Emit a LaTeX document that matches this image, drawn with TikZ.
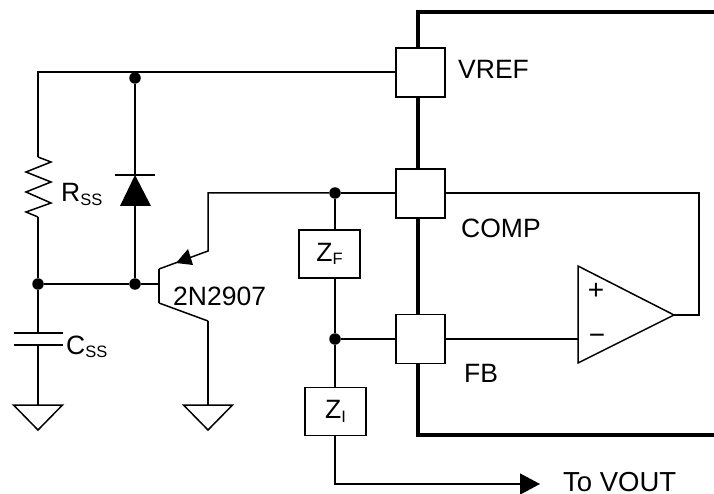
\documentclass[tikz,border=0pt]{standalone}
\usepackage{fontspec}
\setmainfont{Liberation Sans}
\usetikzlibrary{arrows.meta}
\newcommand{\lowtext}[1]{\raisebox{-3.5pt}{\fontsize{16.5}{16.5}\selectfont #1}}
\tikzset{
    wire/.style={line width=1.5pt},
    body/.style={line width=3.6pt, line join=miter},
    pad/.style={draw, line width=1.5pt, fill=white, inner sep=0pt, minimum width=49pt, minimum height=49pt},
    imped/.style={draw, line width=1.5pt, fill=white, inner sep=0pt, minimum width=61pt, minimum height=48pt},
    dot/.style={circle, fill=black, inner sep=0pt, minimum size=11.5pt},
    label/.style={inner sep=0pt, anchor=base west, font=\fontsize{26.5}{26.5}\selectfont},
}
\begin{document}
\begin{tikzpicture}[x=1pt,y=-1pt]
\useasboundingbox (0,0) rectangle (714,494);

% IC outline
\draw[body] (714,12) -- (418,12) -- (418,435) -- (714,435);

% Pins
\node[pad] (vref) at (420.5,72.5) {};
\node[pad] (comp) at (420.5,193.5) {};
\node[pad] (fb) at (420.5,339) {};
\node[label] (vreflabel) at (458,79) {VREF};
\node[label] (complabel) at (461,237) {COMP};
\node[label] (fblabel) at (464,382) {FB};

% Junctions
\node[dot] (dottop) at (135,78) {};
\node[dot] (dotbase) at (135,284) {};
\node[dot] (dotleft) at (38,284) {};
\node[dot] (dotcomp) at (335,193) {};
\node[dot] (dotfb) at (335,339) {};

% Impedances
\node[imped] (zf) at (329.5,254) {\fontsize{26.5}{26.5}\selectfont Z\lowtext{F}};
\node[imped] (zi) at (335.5,411.5) {\fontsize{26.5}{26.5}\selectfont Z\lowtext{I}};

% Error amplifier
\coordinate (ampa) at (578,266);
\coordinate (ampb) at (578,363);
\coordinate (ampout) at (674,315);
\draw[wire, line join=miter] (ampa) -- (ampout) -- (ampb) -- cycle;
\node[inner sep=0pt, font=\fontsize{28}{28}\selectfont] (plus) at (596,291) {+};
\node[inner sep=0pt, font=\fontsize{28}{28}\selectfont] (minus) at (597,339) {\textminus};
\coordinate (ampminus) at (578,339);
\draw[wire] (ampout) -- (699,315) -- (699,193) -- (comp.east |- 699,193);
\draw[wire] (fb.east |- ampminus) -- (ampminus);

% Reference line and soft-start resistor
\coordinate (rtop) at (38,157);
\coordinate (rbot) at (38,217);
\draw[wire] (vref.west |- 0,72) -- (38,72) -- (rtop);
\draw[wire] (rtop) -- (51,162) -- (26,172) -- (51,182) -- (26,192) -- (51,203) -- (26,212) -- (rbot);
\draw[wire] (rbot) -- (dotleft);
\node[label] (rss) at (61,202) {R\lowtext{SS}};

% Diode
\coordinate (dcat) at (135,175);
\coordinate (dan) at (135,206);
\draw[wire] (dottop) -- (dcat);
\draw[wire] (dan) -- (dotbase);
\draw[wire] (115,175) -- (155,175);
\fill (dcat) -- (151,206) -- (120,206) -- cycle;

% Transistor
\coordinate (basept) at (159,284);
\coordinate (emit) at (208,251);
\coordinate (coll) at (208,321);
\draw[wire] (dotleft) -- (dotbase) -- (basept);
\draw[wire] (159,269) -- (159,303);
\draw[wire] (159,269) -- (emit) -- (208,193) -- (dotcomp);
\draw[wire] (159,303) -- (coll);
\fill (176,263) -- (188,249) -- (193,265) -- cycle;
\node[label] (qname) at (173,305) {2N2907};

% Soft-start capacitor
\coordinate (ctop) at (38,333);
\coordinate (cbot) at (38,345);
\draw[wire] (dotleft) -- (ctop);
\draw[wire] (14,333) -- (63,333);
\draw[wire] (14,345) -- (63,345);
\node[label] (css) at (66,354) {C\lowtext{SS}};

% Grounds
\foreach \gx/\gname in {38/gndc,208/gndq} {
    \coordinate (\gname) at (\gx,405);
    \draw[wire, line join=miter] (\gx-24.5,405) -- (\gx+24.5,405) -- (\gx,430) -- cycle;
}
\draw[wire] (cbot) -- (gndc);
\draw[wire] (coll) -- (gndq);

% Compensation network
\draw[wire] (dotcomp) -- (comp.west |- dotcomp);
\draw[wire] (dotcomp) -- (dotcomp |- zf.north);
\draw[wire] (dotfb |- zf.south) -- (dotfb);
\draw[wire] (dotfb) -- (fb.west |- dotfb);
\draw[wire] (dotfb) -- (dotfb |- zi.north);

% To output
\coordinate (vout) at (540,484);
\draw[wire, -{Triangle[length=20pt,width=21pt]}] (dotfb |- zi.south) -- (335,484) -- (vout);
\node[label, font=\fontsize{27.5}{27.5}\selectfont] (voutlabel) at (563,491.5) {To VOUT};
\end{tikzpicture}
\end{document}
